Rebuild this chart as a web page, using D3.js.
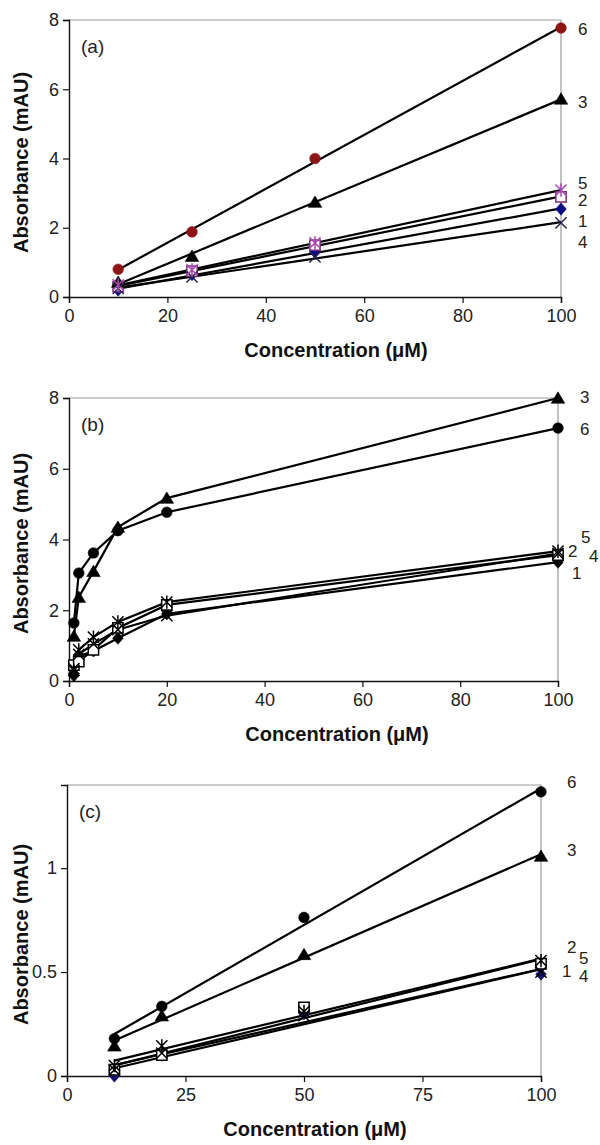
<!DOCTYPE html>
<html>
<head>
<meta charset="utf-8">
<script src="https://cdn.jsdelivr.net/npm/d3@7"></script>
<style>
  body { margin: 0; background: #fff; }
  svg { display: block; font-family: "Liberation Sans", Arial, sans-serif; }
</style>
</head>
<body>
<div id="chart"></div>
<script>
// series 1..6, same marker per series in every panel
const seriesNames = ["1", "2", "3", "4", "5", "6"];
const markerTypes = ["diamond", "square", "triangle", "cross", "asterisk", "circle"];

// panel (a)
const concA = [10, 25, 50, 100];
const a1 = [0.2, 0.65, 1.3, 2.54];
const a2 = [0.3, 0.75, 1.5, 2.89];
const a3 = [0.43, 1.18, 2.74, 5.72];
const a4 = [0.25, 0.58, 1.16, 2.14];
const a5 = [0.35, 0.78, 1.56, 3.09];
const a6 = [0.8, 1.88, 4.0, 7.77];

// panel (b)
const concB = [1, 2, 5, 10, 20, 100];
const b1 = [0.15, 0.7, 0.85, 1.21, 1.9, 3.36];
const b2 = [0.45, 0.55, 0.88, 1.5, 2.15, 3.56];
const b3 = [1.27, 2.37, 3.1, 4.35, 5.17, 8.0];
const b4 = [0.35, 0.75, 1.05, 1.45, 1.85, 3.6];
const b5 = [0.3, 0.88, 1.24, 1.67, 2.23, 3.67];
const b6 = [1.64, 3.05, 3.62, 4.25, 4.77, 7.15];

// panel (c)
const concC = [10, 20, 50, 100];
const c1 = [0.0, 0.1, 0.3, 0.49];
const c2 = [0.03, 0.1, 0.33, 0.54];
const c3 = [0.145, 0.29, 0.585, 1.058];
const c4 = [0.03, 0.11, 0.29, 0.5];
const c5 = [0.05, 0.145, 0.31, 0.555];
const c6 = [0.18, 0.335, 0.763, 1.367];

// ticks
const xTicksAB = [0, 20, 40, 60, 80, 100];
const xTicksC = [0, 25, 50, 75, 100];
const yTicksAB = [0, 2, 4, 6, 8];
const yTicksC = [0, 0.5, 1];

// where the series numbers sit on the right (in y units)
const labelYA = [2.2, 2.8, 5.64, 1.59, 3.3, 7.75];
const labelYB = [3.05, 3.67, 8.02, 3.53, 4.07, 7.12];
const labelYC = [0.507, 0.62, 1.09, 0.483, 0.57, 1.415];

const panels = [
  {
    tag: "(a)", conc: concA, values: [a1, a2, a3, a4, a5, a6], fit: true,
    yMax: 8, xTicks: xTicksAB, yTicks: yTicksAB, labelY: labelYA,
    left: 69, right: 561, top: 20, bottom: 297, titleX: 336,
    labelDx: [17, 17, 17, 17, 17, 17],
    colors: ["#0a0a85", "#7a2a7a", "#000", "#24244a", "#a848b0", "#8e1515"]
  },
  {
    tag: "(b)", conc: concB, values: [b1, b2, b3, b4, b5, b6], fit: false,
    yMax: 8, xTicks: xTicksAB, yTicks: yTicksAB, labelY: labelYB,
    left: 69, right: 558, top: 398, bottom: 681, titleX: 337,
    labelDx: [14, 10, 22, 31, 23, 22],
    colors: ["#000", "#000", "#000", "#000", "#000", "#000"]
  },
  {
    tag: "(c)", conc: concC, values: [c1, c2, c3, c4, c5, c6], fit: true,
    yMax: 1.4, xTicks: xTicksC, yTicks: yTicksC, labelY: labelYC,
    left: 67, right: 541, top: 785, bottom: 1076, titleX: 315,
    labelDx: [21, 26, 26, 38, 38, 26],
    colors: ["#10106a", "#000", "#000", "#000", "#000", "#000"]
  }
];

const svg = d3.select("#chart").append("svg")
  .attr("width", 600)
  .attr("height", 1145);

function markerPath(type, r) {
  if (type === "circle") {
    return `M${-r},0A${r},${r} 0 1,0 ${r},0A${r},${r} 0 1,0 ${-r},0Z`;
  }
  if (type === "triangle") {
    const h = r * 1.1;
    return `M0,${-h}L${h * 1.1},${h * 0.85}L${-h * 1.1},${h * 0.85}Z`;
  }
  if (type === "diamond") {
    return `M0,${-r * 1.1}L${r * 0.95},0L0,${r * 1.1}L${-r * 0.95},0Z`;
  }
  if (type === "square") {
    const s = r * 0.92;
    return `M${-s},${-s}H${s}V${s}H${-s}Z`;
  }
  if (type === "cross") {
    return `M${-r},${-r}L${r},${r}M${-r},${r}L${r},${-r}`;
  }
  // asterisk: cross plus a vertical bar
  return `M${-r},${-r}L${r},${r}M${-r},${r}L${r},${-r}M0,${-r * 1.2}V${r * 1.2}`;
}

function linearFit(xs, ys) {
  const mx = d3.mean(xs), my = d3.mean(ys);
  let sxy = 0, sxx = 0;
  xs.forEach((x, i) => {
    sxy += (x - mx) * (ys[i] - my);
    sxx += (x - mx) * (x - mx);
  });
  const slope = sxy / sxx;
  return x => my + slope * (x - mx);
}

function drawPanel(p) {
  const x = d3.scaleLinear().domain([0, 100]).range([p.left, p.right]);
  const y = d3.scaleLinear().domain([0, p.yMax]).range([p.bottom, p.top]);
  const g = svg.append("g");

  // grey frame on top and right
  g.append("path")
    .attr("d", `M${p.left},${p.top}H${p.right}V${p.bottom}`)
    .attr("fill", "none")
    .attr("stroke", "#9a9a9a")
    .attr("stroke-width", 1.2);

  const xAxis = g.append("g")
    .attr("transform", `translate(0,${p.bottom})`)
    .call(d3.axisBottom(x).tickValues(p.xTicks).tickSizeOuter(0).tickSize(6).tickPadding(6).tickFormat(d => d));
  const yAxis = g.append("g")
    .attr("transform", `translate(${p.left},0)`)
    .call(d3.axisLeft(y).tickValues(p.yTicks).tickSizeOuter(0).tickSize(6).tickPadding(4).tickFormat(d => d));

  [xAxis, yAxis].forEach(ax => {
    ax.select(".domain").attr("stroke", "#111").attr("stroke-width", 1.4);
    ax.selectAll(".tick line").attr("stroke", "#111").attr("stroke-width", 1.2);
    ax.selectAll(".tick text")
      .attr("fill", "#222")
      .style("font-size", "18px")
      .style("font-family", '"Liberation Sans", Arial, sans-serif');
  });

  // lines: trendlines for (a) and (c), connected points for (b)
  const line = d3.line().x(d => x(d[0])).y(d => y(d[1]));
  p.values.forEach((vals, i) => {
    let pts;
    if (p.fit) {
      const f = linearFit(p.conc, vals);
      const x0 = d3.min(p.conc), x1 = d3.max(p.conc);
      pts = [[x0, f(x0)], [x1, f(x1)]];
    } else {
      pts = p.conc.map((c, j) => [c, vals[j]]);
    }
    g.append("path")
      .datum(pts)
      .attr("d", line)
      .attr("fill", "none")
      .attr("stroke", "#000")
      .attr("stroke-width", 2.2);
  });

  // markers
  p.values.forEach((vals, i) => {
    const type = markerTypes[i];
    const col = p.colors[i];
    const open = type === "square" || type === "cross" || type === "asterisk";
    g.selectAll(null)
      .data(p.conc.map((c, j) => [c, vals[j]]))
      .join("path")
      .attr("transform", d => `translate(${x(d[0])},${y(d[1])})`)
      .attr("d", markerPath(type, type === "circle" ? 5.3 : 5.6))
      .attr("fill", type === "square" ? "#fff" : (open ? "none" : col))
      .attr("stroke", col)
      .attr("stroke-width", open ? 1.5 : 0.6);
  });

  // series numbers on the right
  g.selectAll(null)
    .data(seriesNames)
    .join("text")
    .attr("x", (d, i) => p.right + p.labelDx[i])
    .attr("y", (d, i) => y(p.labelY[i]))
    .attr("dy", "0.36em")
    .attr("fill", "#222")
    .style("font-size", "17px")
    .text(d => d);

  // panel tag
  g.append("text")
    .attr("x", p.left + 12)
    .attr("y", p.top + 33)
    .attr("fill", "#222")
    .style("font-size", "19px")
    .text(p.tag);

  // axis titles
  g.append("text")
    .attr("x", p.titleX)
    .attr("y", p.bottom + 60)
    .attr("text-anchor", "middle")
    .attr("fill", "#111")
    .style("font-size", "20px")
    .style("font-weight", "bold")
    .text("Concentration (μM)");

  g.append("text")
    .attr("transform", `translate(28,${(p.top + p.bottom) / 2 + 4}) rotate(-90)`)
    .attr("text-anchor", "middle")
    .attr("fill", "#111")
    .style("font-size", "20px")
    .style("font-weight", "bold")
    .text("Absorbance (mAU)");
}

panels.forEach(drawPanel);
</script>
</body>
</html>
